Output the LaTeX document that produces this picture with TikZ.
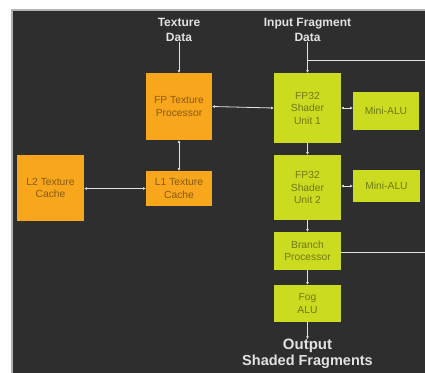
\documentclass[tikz,border=0pt]{standalone}
\usepackage{fontspec}
\setmainfont{Liberation Sans}
\usepackage{tikz}
\usetikzlibrary{arrows.meta, positioning, calc}

\definecolor{panelbg}{HTML}{2E2E2E}
\definecolor{texorange}{HTML}{F8A61C}
\definecolor{shaderlime}{HTML}{CBDC20}
\definecolor{wirecol}{HTML}{E2E2E2}

\begin{document}
\begin{tikzpicture}[x=1pt, y=-1pt]
    \tikzset{
        tex box/.style={
                rectangle, fill=texorange, inner sep=0pt, align=center,
                text=texorange!55!black, font=\fontsize{10.3}{12.5}\selectfont
            },
        shader box/.style={
                rectangle, fill=shaderlime, inner sep=0pt, align=center,
                text=shaderlime!55!black, font=\fontsize{10.3}{12.5}\selectfont
            },
        io label/.style={
                text=wirecol, align=center, inner sep=0pt,
                font=\fontsize{12}{15}\selectfont\bfseries
            },
        wire/.style={
                draw=wirecol, line width=0.8pt
            },
        tip/.style={
                -{Latex[length=2.6pt, width=2.8pt]}
            },
        both tips/.style={
                {Latex[length=2.6pt, width=2.8pt]}-{Latex[length=2.6pt, width=2.8pt]}
            }
    }

    \useasboundingbox (0,0) rectangle (425,372);
    \clip (0,0) rectangle (425,372);
    \fill[white] (0,0) rectangle (425,372);
    \fill[panelbg] (12,10) rectangle (426,373);
    \draw[gray!60, line width=1.4pt] (12,373) -- (12,10) -- (426,10);

    % Texture side
    \node[tex box, minimum width=66pt, minimum height=67pt] (tproc) at (179,106.5) {FP Texture\\Processor};
    \node[tex box, minimum width=66pt, minimum height=35pt] (lonecache) at (179,188.5) {L1 Texture\\Cache};
    \node[tex box, minimum width=67pt, minimum height=66pt] (ltwocache) at (50.5,188) {L2 Texture\\Cache};

    % Shader pipeline
    \node[shader box, minimum width=67pt, minimum height=70pt] (shaderone) at (307.5,108) {FP32\\Shader\\Unit 1};
    \node[shader box, minimum width=66pt, minimum height=38pt] (aluone) at (386,111) {Mini-ALU};
    \node[shader box, minimum width=67pt, minimum height=65pt] (shadertwo) at (307.5,187.5) {FP32\\Shader\\Unit 2};
    \node[shader box, minimum width=67pt, minimum height=32pt] (alutwo) at (386.5,186) {Mini-ALU};
    \node[shader box, minimum width=67pt, minimum height=38pt] (branch) at (307.5,251) {Branch\\Processor};
    \node[shader box, minimum width=67pt, minimum height=37pt] (fog) at (307.5,303.5) {Fog\\ALU};

    % Inputs and outputs
    \node[io label] (texdata) at (179,30) {Texture\\Data};
    \node[io label] (fragdata) at (307.5,30) {Input Fragment\\Data};
    \node[io label, font=\fontsize{15}{17}\selectfont\bfseries] (output) at (307.5,346) {Output};
    \node[io label, font=\fontsize{14.5}{17}\selectfont\bfseries, below=2pt of output] (shaded) {Shaded Fragments};
    \coordinate (fragtap) at (425,60);
    \coordinate (branchtap) at (425,252);

    % Connectors
    \draw[wire, tip] (texdata.south) -- (tproc.north);
    \draw[wire, tip] (fragdata.south) -- (shaderone.north);
    \draw[wire] (fragdata.south |- fragtap) -- (fragtap);
    \draw[wire, both tips] (tproc.east) -- (shaderone.west);
    \draw[wire, both tips] (shaderone.east) -- (shaderone.east -| aluone.west);
    \draw[wire, both tips] (tproc.south) -- (lonecache.north);
    \draw[wire, both tips] (ltwocache.east |- lonecache.west) -- (lonecache.west);
    \draw[wire, tip] (shaderone.south) -- (shadertwo.north);
    \draw[wire, both tips] (shadertwo.east |- alutwo.west) -- (alutwo.west);
    \draw[wire, tip] (shadertwo.south) -- (branch.north);
    \draw[wire] (branch.east |- branchtap) -- (branchtap);
    \draw[wire, tip] (branch.south) -- (fog.north);
    \draw[wire, tip] (fog.south) -- (output.north);
\end{tikzpicture}
\end{document}
